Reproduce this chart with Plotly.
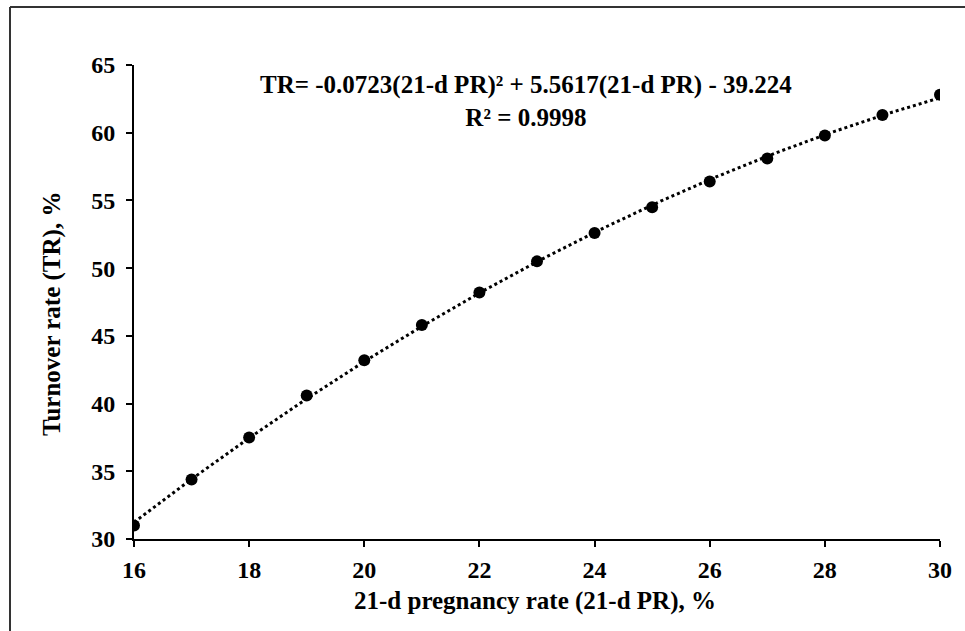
import numpy as np
import plotly.graph_objects as go

pr = [16, 17, 18, 19, 20, 21, 22, 23, 24, 25, 26, 27, 28, 29, 30]
tr = [31.0, 34.4, 37.5, 40.6, 43.2, 45.8, 48.2, 50.5, 52.6, 54.5, 56.4, 58.1, 59.8, 61.3, 62.8]
x_ticks = [16, 18, 20, 22, 24, 26, 28, 30]
y_ticks = [30, 35, 40, 45, 50, 55, 60, 65]
eq_line1 = "TR= -0.0723(21-d PR)² + 5.5617(21-d PR) - 39.224"
eq_line2 = "R² = 0.9998"
x_title = "21-d pregnancy rate (21-d PR), %"
y_title = "Turnover rate (TR), %"

# quadratic trendline fitted to the data (as in the source's trendline)
coef = np.polyfit(pr, tr, 2)
xf = np.linspace(min(pr), max(pr), 200)
yf = np.polyval(coef, xf)

FONT = "Liberation Serif"
fig = go.Figure()
fig.add_trace(go.Scatter(x=xf, y=yf, mode="lines",
                         line=dict(color="black", width=3, dash="dot"),
                         hoverinfo="skip", showlegend=False))
fig.add_trace(go.Scatter(x=pr, y=tr, mode="markers",
                         marker=dict(color="black", size=12),
                         showlegend=False))

L, R, T, B = 134, 25, 65, 92
W, H = 965, 631
pw, ph = W - L - R, H - T - B

def px(xp):
    return (xp - L) / pw

def py(yp):
    return (H - B - yp) / ph

fig.add_annotation(x=px(526), y=py(101), xref="paper", yref="paper",
                   xanchor="center", yanchor="middle",
                   text="<b>" + eq_line1 + "</b><br><b>" + eq_line2 + "</b>",
                   showarrow=False, align="center",
                   font=dict(family=FONT, size=25, color="black"))
fig.add_annotation(x=px(535), y=py(601), xref="paper", yref="paper",
                   xanchor="center", yanchor="middle",
                   text="<b>" + x_title + "</b>", showarrow=False,
                   font=dict(family=FONT, size=25, color="black"))
fig.add_annotation(x=px(52), y=py(314), xref="paper", yref="paper",
                   xanchor="center", yanchor="middle",
                   text="<b>" + y_title + "</b>", showarrow=False, textangle=-90,
                   font=dict(family=FONT, size=25, color="black"))

# frame lines (top and left) of the original image
fig.add_shape(type="line", xref="paper", yref="paper",
              x0=px(10), x1=px(966), y0=py(7), y1=py(7),
              line=dict(color="#333333", width=2))
fig.add_shape(type="line", xref="paper", yref="paper",
              x0=px(10), x1=px(10), y0=py(7), y1=py(632),
              line=dict(color="#333333", width=2))

axis_common = dict(showgrid=False, zeroline=False, showline=True,
                   linecolor="black", linewidth=2, ticks="outside",
                   ticklen=6, tickwidth=2, tickcolor="black",
                   tickfont=dict(family=FONT, size=24, color="black", weight="bold"))

fig.update_xaxes(range=[16, 30], tickvals=x_ticks, ticklabelstandoff=2, **axis_common)
fig.update_yaxes(range=[30, 65], tickvals=y_ticks, ticklabelstandoff=6, **axis_common)

fig.update_layout(width=W, height=H, margin=dict(l=L, r=R, t=T, b=B),
                  plot_bgcolor="white", paper_bgcolor="white",
                  font=dict(family=FONT, color="black"))

fig.write_html("out.html")
